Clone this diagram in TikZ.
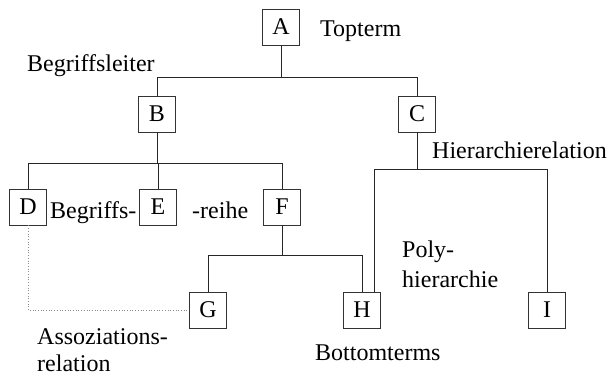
\documentclass[tikz,border=0pt]{standalone}
\usepackage{fontspec}
\setmainfont{Liberation Serif}
\begin{document}
\begin{tikzpicture}[x=1pt,y=-1pt,
  term/.style={draw=black!80,line width=0.8pt,minimum width=37pt,minimum height=36pt,inner sep=0pt,font=\fontsize{24}{27}\selectfont},
  lab/.style={inner sep=0pt,anchor=base west,font=\fontsize{24}{27}\selectfont},
  link/.style={draw=black!85,line width=0.8pt},
  assoc/.style={draw=black!45,line width=0.7pt,dotted}]
\useasboundingbox (0,0) rectangle (610,375);
\node[term] (A) at (281,27) {A};
\node[term] (B) at (157,114) {B};
\node[term] (C) at (417,114) {C};
\node[term] (D) at (28,207) {D};
\node[term] (E) at (158,207) {E};
\node[term] (F) at (282,207) {F};
\node[term] (G) at (208,310) {G};
\node[term] (H) at (362,310) {H};
\node[term] (I) at (547,310) {I};
\coordinate (jA) at (281,77);
\coordinate (jB) at (157,163);
\coordinate (jF) at (282,255);
\coordinate (jC) at (417,169);
\coordinate (hn2) at (374,292);
\draw[link] (A.south) -- (jA);
\draw[link] (jA) -| (B.north);
\draw[link] (jA) -| (C.north);
\draw[link] (B.south) -- (jB);
\draw[link] (jB) -| (D.north);
\draw[link] (jB) -| (E.north);
\draw[link] (jB) -| (F.north);
\draw[link] (F.south) -- (jF);
\draw[link] (jF) -| (G.north);
\draw[link] (jF) -| (H.north);
\draw[link] (C.south) -- (jC);
\draw[link] (jC) -| (hn2);
\draw[link] (jC) -| (I.north);
\draw[assoc] (D.south) |- (G.west);
\node[lab] (t1) at (320,36) {Topterm};
\node[lab] (t2) at (27,71) {Begriffsleiter};
\node[lab] (t3) at (432,158) {Hierarchierelation};
\node[lab] (t4) at (50,218) {Begriffs-};
\node[lab] (t5) at (192,218) {-reihe};
\node[lab] (t6) at (402,257) {Poly-};
\node[lab] (t7) at (402,287) {hierarchie};
\node[lab] (t8) at (37,344) {Assoziations-};
\node[lab] (t9) at (37,371) {relation};
\node[lab] (t10) at (315,360) {Bottomterms};
\end{tikzpicture}
\end{document}
